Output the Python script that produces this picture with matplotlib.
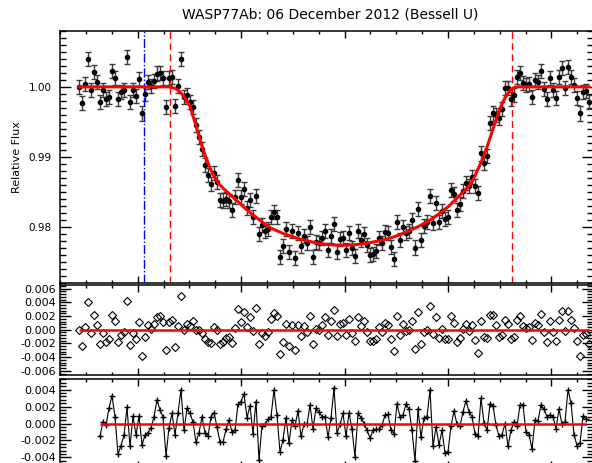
import numpy as np
import matplotlib.pyplot as plt
from matplotlib.ticker import MultipleLocator, FormatStrFormatter

# relative flux per frame (top panel)
flux = [1.0000, 0.9977, 1.0004, 1.0040, 0.9995, 1.0021, 1.0007, 0.9979, 0.9995, 0.9982,
        0.9986, 1.0022, 1.0013, 0.9982, 0.9992, 0.9996, 1.0042, 0.9978, 0.9995, 0.9987,
        1.0011, 0.9962, 0.9990, 1.0007, 1.0001, 1.0009, 1.0019, 1.0020, 1.0012, 0.9971,
        1.0012, 1.0014, 0.9973, 1.0001, 1.0040, 0.9986, 0.9988, 0.9978, 0.9971, 0.9945,
        0.9929, 0.9911, 0.9889, 0.9874, 0.9862, 0.9877, 0.9865, 0.9839, 0.9838, 0.9840,
        0.9837, 0.9825, 0.9843, 0.9867, 0.9843, 0.9854, 0.9828, 0.9839, 0.9815, 0.9845,
        0.9790, 0.9803, 0.9795, 0.9798, 0.9815, 0.9821, 0.9815, 0.9758, 0.9773, 0.9798,
        0.9765, 0.9794, 0.9756, 0.9791, 0.9773, 0.9787, 0.9778, 0.9800, 0.9758, 0.9779,
        0.9777, 0.9784, 0.9795, 0.9768, 0.9788, 0.9804, 0.9765, 0.9783, 0.9784, 0.9767,
        0.9791, 0.9770, 0.9759, 0.9794, 0.9782, 0.9790, 0.9774, 0.9761, 0.9762, 0.9766,
        0.9785, 0.9778, 0.9793, 0.9791, 0.9772, 0.9755, 0.9808, 0.9782, 0.9800, 0.9791,
        0.9795, 0.9810, 0.9771, 0.9826, 0.9782, 0.9802, 0.9807, 0.9844, 0.9806, 0.9834,
        0.9807, 0.9823, 0.9812, 0.9815, 0.9853, 0.9847, 0.9824, 0.9833, 0.9851, 0.9863,
        0.9858, 0.9872, 0.9859, 0.9849, 0.9905, 0.9892, 0.9902, 0.9949, 0.9962, 0.9960,
        0.9955, 0.9968, 0.9998, 0.9999, 0.9983, 0.9988, 1.0014, 1.0020, 1.0005, 1.0003,
        1.0004, 0.9985, 1.0010, 1.0007, 1.0023, 0.9997, 0.9982, 1.0013, 0.9996, 0.9984,
        1.0014, 1.0027, 0.9998, 1.0028, 1.0014, 1.0002, 0.9984, 0.9962, 0.9993, 0.9994,
        0.9979]

# transit model at each frame
model = [1.0] * 31 + [
    0.99991, 0.99979, 0.99951, 0.99914, 0.99861, 0.99793, 0.99719, 0.99586, 0.99449,
    0.99294, 0.99157, 0.99029, 0.98914, 0.98814, 0.98729, 0.98657, 0.98600, 0.98557,
    0.98514, 0.98479, 0.98440, 0.98400, 0.98363, 0.98323, 0.98286, 0.98247, 0.98210,
    0.98171, 0.98140, 0.98107, 0.98074, 0.98043, 0.98014, 0.97986, 0.97966, 0.97947,
    0.97929, 0.97911, 0.97896, 0.97881, 0.97867, 0.97853, 0.97839, 0.97826, 0.97816,
    0.97806, 0.97796, 0.97786, 0.97777, 0.97771, 0.97764, 0.97757, 0.97753, 0.97749,
    0.97746, 0.97744, 0.97743, 0.97743, 0.97744, 0.97746, 0.97749, 0.97750, 0.97756,
    0.97760, 0.97766, 0.97771, 0.97780, 0.97789, 0.97797, 0.97804, 0.97814, 0.97826,
    0.97836, 0.97849, 0.97863, 0.97879, 0.97893, 0.97911, 0.97930, 0.97950, 0.97969,
    0.97987, 0.98007, 0.98029, 0.98054, 0.98077, 0.98100, 0.98129, 0.98160, 0.98190,
    0.98223, 0.98257, 0.98291, 0.98329, 0.98371, 0.98414, 0.98457, 0.98500, 0.98543,
    0.98593, 0.98650, 0.98736, 0.98829, 0.98921, 0.99029, 0.99143, 0.99271, 0.99400,
    0.99529, 0.99650, 0.99757, 0.99843, 0.99907, 0.99964, 0.99990] + [1.0] * 25

# residuals of the second fit (bottom panel), starting at frame 7
alt_start = 7
resid_alt = [-0.0015, 0.0002, -0.0002, 0.0018, 0.0033, 0.0008, -0.0036, -0.0026, -0.0014, 0.0019,
             -0.0027, 0.0009, -0.0014, 0.0009, -0.0025, -0.0014, -0.0011, -0.0005, 0.0008, 0.0028,
             0.0016, 0.0008, -0.0038, -0.0005, 0.0012, -0.0013, 0.0012, 0.0040, -0.0008, 0.0018,
             0.0012, 0.0002, -0.0022, -0.0011, 0.0008, -0.0011, -0.0015, 0.0008, 0.0013, -0.0004,
             -0.0022, -0.0022, -0.0007, 0.0004, -0.0010, -0.0008, 0.0023, 0.0026, 0.0035, 0.0007,
             0.0021, -0.0012, 0.0026, -0.0043, -0.0003, -0.0001, 0.0005, 0.0008, 0.0040, 0.0010,
             -0.0034, -0.0019, 0.0007, -0.0023, 0.0004, -0.0003, 0.0015,
             -0.0015, -0.0001, -0.0001, 0.0022, -0.0006, 0.0018, 0.0014, 0.0008, 0.0008, -0.0016,
             0.0006, 0.0042, -0.0011, -0.0001, 0.0012, -0.0015, 0.0013, -0.0007, -0.0039, 0.0012,
             0.0007, 0.0000, -0.0008, -0.0017, -0.0008, -0.0007, -0.0007, -0.0002, 0.0010, 0.0011,
             -0.0008, -0.0012, 0.0023, 0.0008, 0.0010, 0.0023, 0.0017, -0.0008, -0.0044, 0.0017,
             -0.0016, 0.0007, 0.0008, 0.0040, -0.0027, -0.0004, -0.0025, -0.0008, -0.0035, -0.0033,
             -0.0003, 0.0015, -0.0001, -0.0003, 0.0014, 0.0027, 0.0014, 0.0008, -0.0012, -0.0015,
             0.0030, 0.0001, -0.0008, 0.0023, 0.0021, -0.0002, -0.0015, -0.0013, 0.0000, -0.0027,
             -0.0008, 0.0002, -0.0003, 0.0022, 0.0022, -0.0010, -0.0013, -0.0030, 0.0004, 0.0003,
             0.0022, 0.0017, 0.0008, 0.0010, 0.0008, -0.0006, 0.0017, -0.0001, 0.0002, 0.0040,
             0.0024, -0.0013, -0.0026, -0.0023, 0.0009, 0.0005]

flux_err = 0.001
blue_mark = 21.7          # frame of the dash-dot marker
contacts = [30.4, 144.4]  # first and last contact (frames)

frames = np.arange(len(flux))
resid = np.array(flux) - np.array(model)
alt_frames = np.arange(alt_start, alt_start + len(resid_alt))

W, H = 592, 463
fig = plt.figure(figsize=(W / 100, H / 100), dpi=100)
plt.rcParams['font.family'] = 'DejaVu Sans'


def box(l, t, r, b):
    return [l / W, 1 - b / H, (r - l) / W, (b - t) / H]


ax1 = fig.add_axes(box(60, 30.7, 593, 283.3))
ax2 = fig.add_axes(box(60, 284.5, 593, 375))
ax3 = fig.add_axes(box(60, 379.5, 593, 467.6))

for ax in (ax1, ax2, ax3):
    ax.set_xlim(-6.33, 171.33)
    ax.xaxis.set_major_locator(MultipleLocator(34.47, offset=19.57))
    ax.xaxis.set_minor_locator(MultipleLocator(34.47 / 4, offset=19.57))
    ax.tick_params(axis='both', which='both', direction='in', top=True, right=True,
                   labelbottom=False, colors='black')
    ax.tick_params(axis='x', which='major', length=5, width=1)
    ax.tick_params(axis='x', which='minor', length=2.5, width=1)
    ax.tick_params(axis='y', which='major', length=8, width=1, labelsize=8, pad=3)
    ax.tick_params(axis='y', which='minor', length=4.5, width=1)
    for s in ax.spines.values():
        s.set_linewidth(1.1)

# top panel
ax1.errorbar(frames, flux, yerr=flux_err, fmt='o', ms=3, color='black',
             ecolor='#3a3a3a', elinewidth=1, capsize=2.2, capthick=1, zorder=2)
ax1.plot(frames, model, color='red', lw=2.2, zorder=3)
ax1.axvline(blue_mark, color='blue', ls='-.', lw=1)
for c in contacts:
    ax1.axvline(c, color='red', ls=(0, (5, 3)), lw=1)
ax1.set_ylim(0.972, 1.008)
ax1.yaxis.set_major_locator(MultipleLocator(0.01))
ax1.yaxis.set_minor_locator(MultipleLocator(0.001))
ax1.yaxis.set_major_formatter(FormatStrFormatter('%.2f'))
ax1.tick_params(axis='y', which='major', labelsize=7.5, pad=6)

# middle panel: residuals
ax2.plot(frames, resid, 'D', mfc='none', mec='black', ms=4, mew=0.8)
ax2.hlines(0, frames[0], frames[-1], color='red', lw=1.8)
ax2.set_ylim(-0.0066, 0.0066)
ax2.yaxis.set_major_locator(MultipleLocator(0.002))
ax2.yaxis.set_minor_locator(MultipleLocator(0.0004))
ax2.yaxis.set_major_formatter(FormatStrFormatter('%.3f'))

# bottom panel: residuals of second fit
ax3.plot(alt_frames, resid_alt, color='black', lw=0.8, marker='+', ms=5, mew=1)
ax3.hlines(0, alt_frames[0], alt_frames[-1], color='red', lw=1.8)
ax3.set_ylim(-0.0052, 0.0052)
ax3.yaxis.set_major_locator(MultipleLocator(0.002))
ax3.yaxis.set_minor_locator(MultipleLocator(0.0004))
ax3.yaxis.set_major_formatter(FormatStrFormatter('%.3f'))

fig.text(330 / W, 1 - 14 / H, 'WASP77Ab: 06 December 2012 (Bessell U)',
         ha='center', va='center', fontsize=10)
fig.text(17 / W, 1 - 157 / H, 'Relative Flux', rotation=90,
         ha='center', va='center', fontsize=8)

fig.savefig('out.png', dpi=100)
